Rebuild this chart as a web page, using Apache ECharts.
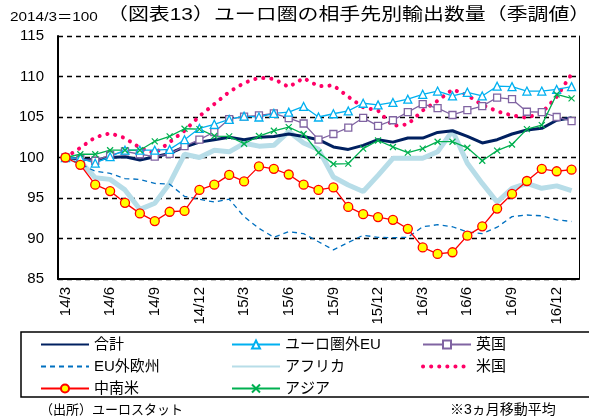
<!DOCTYPE html>
<html>
<head>
<meta charset="utf-8">
<script src="https://cdn.jsdelivr.net/npm/echarts@6/dist/echarts.min.js"></script>
<style>
  html, body { margin: 0; padding: 0; background: #fff; }
  #main { width: 589px; height: 419px; }
</style>
</head>
<body>
<div id="main"></div>
<script>
var months = ['14/3','14/4','14/5','14/6','14/7','14/8','14/9','14/10','14/11','14/12',
  '15/1','15/2','15/3','15/4','15/5','15/6','15/7','15/8','15/9','15/10','15/11','15/12',
  '16/1','16/2','16/3','16/4','16/5','16/6','16/7','16/8','16/9','16/10','16/11','16/12','17/1'];
var yTicks = [85, 90, 95, 100, 105, 110, 115];

// 2014/3=100, 3ヵ月移動平均
var total = [100, 99.8, 99.7, 100.0, 100.1, 99.7, 100.1, 100.5, 101.3, 101.9, 102.2, 102.5, 102.2, 102.5, 102.6, 102.9,
  102.6, 102.2, 101.3, 101.0, 101.5, 102.2, 101.9, 102.4, 102.4, 103.1, 103.3, 102.6, 101.8, 102.2, 102.9, 103.4, 103.6, 104.6, 104.9];
var euNonEuro = [100, 99.9, 99.3, 100.1, 100.9, 100.9, 100.9, 101.0, 102.2, 103.6, 104.1, 104.7, 105.1, 105.0, 105.45, 105.6,
  106.3, 105.0, 105.4, 105.75, 106.7, 106.5, 106.8, 107.2, 107.8, 108.2, 107.6, 108.05, 107.6, 108.8, 108.75, 108.2, 108.2, 108.4, 108.75];
var uk = [100, 99.8, 99.6, 100.3, 100.75, 100.4, 100.1, 100.45, 101.4, 102.2, 103.15, 104.75, 105.05, 105.2, 105.45, 104.85,
  104.2, 102.2, 102.9, 103.7, 104.9, 103.9, 104.6, 105.6, 106.6, 106.1, 105.25, 105.85, 106.35, 107.4, 107.2, 105.65, 105.6, 105.0, 104.5];
var nonEuEurope = [100, 99.2, 98.3, 98.05, 97.4, 97.3, 96.8, 96.7, 95.2, 94.85, 94.5, 94.85, 92.7, 91.25, 90.15, 90.85,
  90.6, 89.6, 88.6, 89.5, 90.4, 90.15, 90.1, 90.15, 91.45, 91.7, 91.45, 90.8, 90.6, 91.4, 92.7, 92.9, 92.8, 92.3, 92.1];
var africa = [100, 99.5, 97.5, 97.3, 96.0, 93.6, 94.35, 96.8, 100.4, 100.0, 100.9, 100.7, 101.75, 101.4, 101.5, 103.2,
  101.8, 101.0, 97.6, 96.6, 95.8, 97.8, 99.9, 99.9, 99.9, 100.7, 103.3, 99.3, 96.8, 94.5, 96.2, 96.8, 96.2, 96.5, 95.9];
var usa = [100, 101.2, 102.5, 103.0, 102.4, 101.2, 100.5, 101.9, 103.3, 105.1, 106.6, 108.1, 109.2, 109.85, 109.7, 108.7,
  109.8, 108.8, 108.9, 107.5, 106.2, 105.8, 103.9, 104.1, 105.8, 107.0, 108.4, 107.7, 106.5, 105.7, 105.2, 104.9, 105.5, 107.5, 110.3];
var latam = [100, 99.1, 96.65, 95.85, 94.4, 93.1, 92.15, 93.3, 93.4, 96.0, 96.65, 97.85, 97.05, 98.9, 98.6, 97.9,
  96.65, 96.0, 96.3, 93.9, 93.0, 92.65, 92.3, 91.2, 88.9, 88.1, 88.3, 90.35, 91.5, 93.7, 95.5, 97.1, 98.6, 98.3, 98.5];
var asia = [100, 100.4, 100.4, 100.9, 100.9, 100.9, 102.0, 102.6, 103.55, 103.5, 102.65, 102.6, 101.7, 102.65, 103.3, 103.75,
  102.9, 100.6, 99.2, 99.25, 101.1, 102.1, 101.3, 100.6, 101.1, 101.95, 101.95, 101.2, 99.6, 100.85, 101.6, 103.5, 104.0, 107.8, 107.3];

var jp = '"Liberation Sans", "Noto Sans CJK JP", sans-serif';
var crossPath = 'path://M0,0L10,10M10,0L0,10';

function lineSeries(name, data, color, extra) {
  var s = {
    name: name,
    type: 'line',
    data: data,
    symbol: 'none',
    color: color,
    lineStyle: { color: color, width: 1.3 },
    emphasis: { disabled: true }
  };
  for (var k in extra) s[k] = extra[k];
  return s;
}

// 記号なしの系列は凡例でも線だけ
function plain(name) {
  return { name: name, itemStyle: { opacity: 0 } };
}

var usaLegend = plain('米国');
usaLegend.lineStyle = { width: 4, type: [0.1, 8], cap: 'round' };

var chart = echarts.init(document.getElementById('main'));
var option = {
  animation: false,
  textStyle: { fontFamily: jp, color: '#000' },
  grid: { left: 58, right: 10, top: 36, bottom: 140 },
  xAxis: {
    type: 'category',
    data: months,
    boundaryGap: true,
    axisLine: { lineStyle: { color: '#000', width: 2 } },
    axisTick: { inside: true, length: 4, interval: 2, lineStyle: { color: '#000', width: 1 } },
    axisLabel: { interval: 2, rotate: 90, fontSize: 15, color: '#000', margin: 8, fontFamily: jp }
  },
  yAxis: [{
    type: 'value',
    min: yTicks[0],
    max: yTicks[yTicks.length - 1],
    interval: 5,
    axisLine: { show: true, lineStyle: { color: '#000', width: 2 } },
    axisTick: { show: false },
    axisLabel: { fontSize: 15, color: '#000', margin: 14, fontFamily: jp },
    splitLine: { show: true, lineStyle: { color: '#000', width: 1.3, type: [5, 4] } }
  }, {
    type: 'value',
    position: 'right',
    min: yTicks[0],
    max: yTicks[yTicks.length - 1],
    interval: 5,
    axisLine: { show: true, lineStyle: { color: '#000', width: 1 } },
    axisTick: { show: false },
    axisLabel: { show: false },
    splitLine: { show: false }
  }],
  legend: [
    { data: [plain('合計'), plain('EU外欧州'), '中南米'], left: 40, top: 337 },
    { data: ['ユーロ圏外EU', plain('アフリカ'), 'アジア'], left: 231, top: 337 },
    { data: ['英国', usaLegend], left: 421, top: 337 }
  ].map(function (l) {
    l.orient = 'vertical';
    l.itemWidth = 48;
    l.itemHeight = 10;
    l.itemGap = 7;
    l.padding = 0;
    l.selectedMode = false;
    l.textStyle = { fontSize: 15, color: '#000', fontFamily: jp };
    return l;
  }),
  series: [
    lineSeries('アフリカ', africa, '#B7DDE8', { lineStyle: { color: '#B7DDE8', width: 5 } }),
    lineSeries('EU外欧州', nonEuEurope, '#0070C0', { lineStyle: { color: '#0070C0', width: 1.3, type: [5, 4] } }),
    lineSeries('米国', usa, '#FF0066', { lineStyle: { color: '#FF0066', width: 4, type: [0.1, 8], cap: 'round' } }),
    lineSeries('合計', total, '#002060', { lineStyle: { color: '#002060', width: 3 } }),
    lineSeries('英国', uk, '#8064A2', {
      symbol: 'rect', symbolSize: 7,
      itemStyle: { color: '#fff', borderColor: '#8064A2', borderWidth: 1.3 }
    }),
    lineSeries('ユーロ圏外EU', euNonEuro, '#00B0F0', {
      symbol: 'triangle', symbolSize: 8,
      itemStyle: { color: '#fff', borderColor: '#00B0F0', borderWidth: 1.3 }
    }),
    lineSeries('アジア', asia, '#00B050', {
      symbol: crossPath, symbolSize: 6,
      itemStyle: { color: '#00B050', borderColor: '#00B050', borderWidth: 1.2 }
    }),
    lineSeries('中南米', latam, '#FF0000', {
      symbol: 'circle', symbolSize: 9,
      lineStyle: { color: '#FF0000', width: 1.3 },
      itemStyle: { color: '#FFFF00', borderColor: '#FF0000', borderWidth: 1.3 }
    })
  ],
  graphic: [
    { type: 'text', x: 10, y: 11, scaleX: 1.18,
      style: { text: '2014/3＝100', fontSize: 13, fill: '#000', fontFamily: jp } },
    { type: 'text', x: 107, y: 7, scaleX: 1.23,
      style: { text: '（図表13）ユーロ圏の相手先別輸出数量（季調値）', fontSize: 17, fill: '#000', fontFamily: jp } },
    { type: 'rect', shape: { x: 21, y: 332, width: 600, height: 65 },
      style: { fill: 'none', stroke: '#000', lineWidth: 1.5 }, silent: true },
    { type: 'text', x: 40, y: 404,
      style: { text: '（出所）ユーロスタット', fontSize: 13, fill: '#000', fontFamily: jp } },
    { type: 'text', x: 450, y: 403,
      style: { text: '※3ヵ月移動平均', fontSize: 14, fill: '#000', fontFamily: jp } }
  ]
};
chart.setOption(option);
</script>
</body>
</html>
